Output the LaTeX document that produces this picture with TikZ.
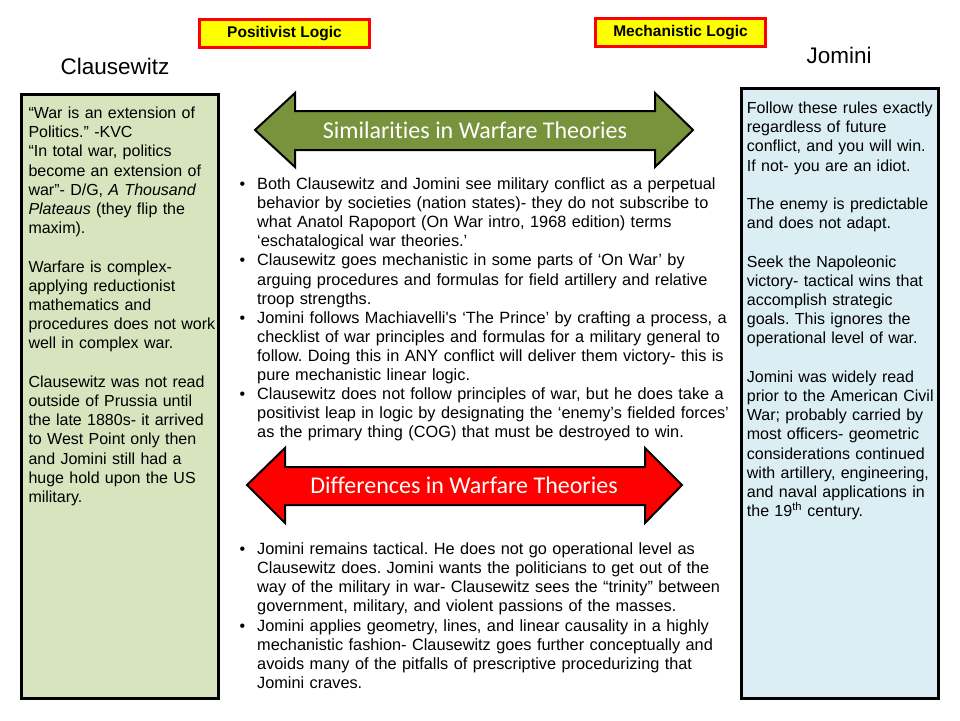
\documentclass[tikz,border=0pt]{standalone}
\usepackage{fontspec}
\setmainfont{Liberation Sans}
\newfontfamily\calfont[Ligatures=NoCommon]{Carlito}
\frenchspacing
\definecolor{boxgreen}{HTML}{D7E4BD}
\definecolor{boxblue}{HTML}{DBEEF4}
\definecolor{olivearrow}{HTML}{77933C}
\definecolor{redarrow}{HTML}{FF0000}
\definecolor{labelyellow}{HTML}{FFFF00}
\tikzset{
  logicbox/.style={draw=red, line width=3pt, fill=labelyellow, minimum width=170pt, minimum height=28pt, inner sep=0pt, font=\fontsize{15.5}{18}\selectfont\bfseries},
  namelabel/.style={anchor=base, inner sep=0pt, font=\fontsize{22.5}{26}\selectfont},
  panel/.style={draw=black, line width=3pt, inner sep=0pt},
  bodytext/.style={anchor=base west, inner sep=0pt, text width=#1, align=left, font=\fontsize{16}{19.2}\selectfont\frenchspacing},
  bodytext/.default=200pt,
  midtext/.style={anchor=base west, inner sep=0pt, text width=520pt, align=left, font=\fontsize{16.3}{19.13}\selectfont\frenchspacing},
  bulletmark/.style={anchor=base, inner sep=0pt, font=\fontsize{16}{19}\selectfont},
  arrowshape/.style={draw=black, line width=2pt, line join=miter},
  arrowtext/.style={anchor=base, inner sep=0pt, text=white, font=\calfont\fontsize{24}{28}\selectfont},
}
\begin{document}
\begin{tikzpicture}[x=1pt,y=-1pt]
\useasboundingbox (0,0) rectangle (960,720);
\fill[white] (0,0) rectangle (960,720);

% top labels
\node[logicbox] (pos) at (284.5,33.5) {Positivist Logic};
\node[logicbox] (mech) at (680.5,32.5) {Mechanistic Logic};
\node[namelabel] (clz) at (115,74) {Clausewitz};
\node[namelabel] (jom) at (839,63) {Jomini};

% side panels
\node[panel, fill=boxgreen, minimum width=197pt, minimum height=604pt] (cbox) at (120,396.5) {};
\node[panel, fill=boxblue, minimum width=197pt, minimum height=610pt] (jbox) at (840,393.5) {};

\node[bodytext] (ctext) at (28.3,118.5) {“War is an extension of\\
Politics.” -KVC\\
“In total war, politics\\
become an extension of\\
war”- D/G, \textit{A Thousand}\\
\textit{Plateaus} (they flip the\\
maxim).\\[19.2pt]
Warfare is complex-\\
applying reductionist\\
mathematics and\\
procedures does not work\\
well in complex war.\\[19.2pt]
Clausewitz was not read\\
outside of Prussia until\\
the late 1880s- it arrived\\
to West Point only then\\
and Jomini still had a\\
huge hold upon the US\\
military.};

\node[bodytext] (jtext) at (746.7,113.5) {Follow these rules exactly\\
regardless of future\\
conflict, and you will win.\\
If not- you are an idiot.\\[19.2pt]
The enemy is predictable\\
and does not adapt.\\[19.2pt]
Seek the Napoleonic\\
victory- tactical wins that\\
accomplish strategic\\
goals. This ignores the\\
operational level of war.\\[19.2pt]
Jomini was widely read\\
prior to the American Civil\\
War; probably carried by\\
most officers- geometric\\
considerations continued\\
with artillery, engineering,\\
and naval applications in\\
the 19\textsuperscript{th} century.};

% similarities arrow
\draw[arrowshape, fill=olivearrow] (255,130) -- (295,93) -- (295,111) -- (655,111) -- (655,93) -- (693,130) -- (655,167) -- (655,150) -- (295,150) -- (295,167) -- cycle;
\node[arrowtext] (sim) at (475,138) {Similarities in Warfare Theories};

\node[bulletmark] (sb1) at (242.5,189.5) {•};
\node[midtext] (s1) at (257,189.5) {Both Clausewitz and Jomini see military conflict as a perpetual\\
behavior by societies (nation states)- they do not subscribe to\\
what Anatol Rapoport (On War intro, 1968 edition) terms\\
‘eschatalogical war theories.’};
\node[bulletmark] (sb2) at (242.5,265.9) {•};
\node[midtext] (s2) at (257,265.9) {Clausewitz goes mechanistic in some parts of ‘On War’ by\\
arguing procedures and formulas for field artillery and relative\\
troop strengths.};
\node[bulletmark] (sb3) at (242.5,323.3) {•};
\node[midtext] (s3) at (257,323.3) {Jomini follows Machiavelli\textquotesingle s ‘The Prince’ by crafting a process, a\\
checklist of war principles and formulas for a military general to\\
follow. Doing this in ANY conflict will deliver them victory- this is\\
pure mechanistic linear logic.};
\node[bulletmark] (sb4) at (242.5,399.7) {•};
\node[midtext] (s4) at (257,399.7) {Clausewitz does not follow principles of war, but he does take a\\
positivist leap in logic by designating the ‘enemy’s fielded forces’\\
as the primary thing (COG) that must be destroyed to win.};

% differences arrow
\draw[arrowshape, fill=redarrow] (247,485) -- (285,448) -- (285,467) -- (645,467) -- (645,448) -- (682,485) -- (645,523) -- (645,505) -- (285,505) -- (285,523) -- cycle;
\node[arrowtext] (diff) at (464,493) {Differences in Warfare Theories};

\node[bulletmark] (db1) at (242.5,554.5) {•};
\node[midtext] (d1) at (257,554.5) {Jomini remains tactical. He does not go operational level as\\
Clausewitz does. Jomini wants the politicians to get out of the\\
way of the military in war- Clausewitz sees the “trinity” between\\
government, military, and violent passions of the masses.};
\node[bulletmark] (db2) at (242.5,631) {•};
\node[midtext] (d2) at (257,631) {Jomini applies geometry, lines, and linear causality in a highly\\
mechanistic fashion- Clausewitz goes further conceptually and\\
avoids many of the pitfalls of prescriptive procedurizing that\\
Jomini craves.};
\end{tikzpicture}
\end{document}
